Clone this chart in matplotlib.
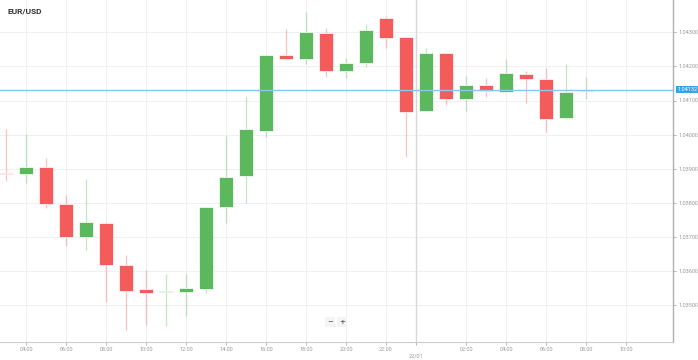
import matplotlib
matplotlib.use('Agg')
import matplotlib.pyplot as plt
import matplotlib.dates as mdates
import numpy as np
import pandas as pd

# hourly EUR/USD candles, 21/01 03:00 -> 22/01 08:00
times = ['2025-01-21 03:00', '2025-01-21 04:00', '2025-01-21 05:00', '2025-01-21 06:00',
         '2025-01-21 07:00', '2025-01-21 08:00', '2025-01-21 09:00', '2025-01-21 10:00',
         '2025-01-21 11:00', '2025-01-21 12:00', '2025-01-21 13:00', '2025-01-21 14:00',
         '2025-01-21 15:00', '2025-01-21 16:00', '2025-01-21 17:00', '2025-01-21 18:00',
         '2025-01-21 19:00', '2025-01-21 20:00', '2025-01-21 21:00', '2025-01-21 22:00',
         '2025-01-21 23:00', '2025-01-22 00:00', '2025-01-22 01:00', '2025-01-22 02:00',
         '2025-01-22 03:00', '2025-01-22 04:00', '2025-01-22 05:00', '2025-01-22 06:00',
         '2025-01-22 07:00', '2025-01-22 08:00']
opens = [1.03886, 1.03884, 1.03906, 1.03796, 1.03699, 1.03740, 1.03617, 1.03546,
         1.03538, 1.03538, 1.03548, 1.03788, 1.03877, 1.04011, 1.04233, 1.04221,
         1.04298, 1.04187, 1.04209, 1.04343, 1.04285, 1.04069, 1.04239, 1.04104,
         1.04145, 1.04126, 1.04179, 1.04164, 1.04049, 1.04128]
highs = [1.04016, 1.04001, 1.03931, 1.03823, 1.03871, 1.03742, 1.03647, 1.03603,
         1.03590, 1.03592, 1.03788, 1.03996, 1.04113, 1.04236, 1.04310, 1.04360,
         1.04313, 1.04224, 1.04324, 1.04348, 1.04286, 1.04253, 1.04243, 1.04172,
         1.04167, 1.04222, 1.04187, 1.04194, 1.04206, 1.04170]
lows = [1.03864, 1.03859, 1.03784, 1.03674, 1.03662, 1.03510, 1.03427, 1.03441,
        1.03439, 1.03466, 1.03536, 1.03740, 1.03799, 1.03994, 1.04220, 1.04206,
        1.04170, 1.04167, 1.04197, 1.04255, 1.03935, 1.04068, 1.04087, 1.04070,
        1.04111, 1.04125, 1.04094, 1.04009, 1.04045, 1.04105]
closes = [1.03883, 1.03906, 1.03796, 1.03699, 1.03742, 1.03618, 1.03542, 1.03536,
          1.03541, 1.03551, 1.03787, 1.03876, 1.04015, 1.04233, 1.04221, 1.04300,
          1.04187, 1.04209, 1.04307, 1.04282, 1.04065, 1.04240, 1.04104, 1.04145,
          1.04128, 1.04180, 1.04163, 1.04047, 1.04126, 1.04132]
last_price = 1.04132

y_ticks = [1.03500, 1.03600, 1.03700, 1.03800, 1.03900, 1.04000, 1.04100, 1.04200, 1.04300]
x_ticks = ['2025-01-21 04:00', '2025-01-21 06:00', '2025-01-21 08:00', '2025-01-21 10:00',
           '2025-01-21 12:00', '2025-01-21 14:00', '2025-01-21 16:00', '2025-01-21 18:00',
           '2025-01-21 20:00', '2025-01-21 22:00', '2025-01-22 02:00', '2025-01-22 04:00',
           '2025-01-22 06:00', '2025-01-22 08:00', '2025-01-22 10:00']
day_break = '2025-01-21 23:30'
day_label = '22/01'

UP = '#5cb85c'
DOWN = '#f45b5b'

t = mdates.date2num(pd.to_datetime(times))
o = np.array(opens)
h = np.array(highs)
l = np.array(lows)
c = np.array(closes)
up = c >= o
colors = np.where(up, UP, DOWN)

fig = plt.figure(figsize=(6.98, 3.6), dpi=100)
ax = fig.add_axes([0, 18.3 / 360, 673 / 698, 341.7 / 360])

# grid
for yt in y_ticks:
    ax.axhline(yt, color='#f0f0f0', lw=0.8, zorder=0)
xt = mdates.date2num(pd.to_datetime(x_ticks))
for x in xt:
    ax.axvline(x, color='#f0f0f0', lw=0.8, zorder=0)
xb = mdates.date2num(pd.to_datetime(day_break))
ax.axvline(xb, color='#d8d8d8', lw=1.0, zorder=0)

# wicks and bodies
hour = 1 / 24
ax.vlines(t, l, h, colors=colors, lw=1.0, alpha=0.35, zorder=1)
body = np.maximum(np.abs(c - o), 0.00004)
ax.bar(t, body, bottom=np.minimum(o, c), width=0.66 * hour, color=colors,
       edgecolor='white', linewidth=0.5, zorder=2)

# last price line
ax.axhline(last_price, color='#86c8f2', lw=1.0, zorder=3)

ax.set_xlim(mdates.date2num(pd.Timestamp('2025-01-21 02:42')),
            mdates.date2num(pd.Timestamp('2025-01-22 12:21')))
ax.set_ylim(1.03392, 1.04395)

ax.yaxis.tick_right()
ax.set_yticks(y_ticks)
ax.set_yticklabels([f'{v:.5f}' for v in y_ticks])
ax.set_xticks(list(xt) + [xb])
ax.set_xticklabels([pd.Timestamp(s).strftime('%H:%M') for s in x_ticks] + ['\n' + day_label])
ax.tick_params(axis='both', labelsize=4, colors='#aaaaaa', labelcolor='#999999',
               length=2, width=0.6, pad=2)
for lab in ax.get_xticklabels() + ax.get_yticklabels():
    lab.set_family('Roboto')

for s in ['top', 'left']:
    ax.spines[s].set_visible(False)
ax.spines['right'].set_color('#b0b0b0')
ax.spines['bottom'].set_color('#cccccc')
ax.spines['right'].set_linewidth(1.0)
ax.spines['bottom'].set_linewidth(0.8)

# price tag on the axis
ax.annotate(f'{last_price:.5f}', xy=(1.0, last_price), xycoords=('axes fraction', 'data'),
            xytext=(3, 0), textcoords='offset points', va='center', ha='left',
            fontsize=4, family='Roboto', color='white',
            bbox=dict(boxstyle='square,pad=0.25', fc='#3aa3e3', ec='none'))

fig.text(8 / 698, 1 - 11 / 360, 'EUR/USD', fontsize=6, fontweight='bold',
         family='Roboto', color='#333333', va='center', ha='left')

# zoom buttons
for xp, lab in [(330, '\u2212'), (342, '+')]:
    fig.text(xp / 698, 1 - 322 / 360, lab, fontsize=5, fontweight='bold', family='DejaVu Sans',
             color='#666666', ha='center', va='center',
             bbox=dict(boxstyle='square,pad=0.3', fc='#f4f4f4', ec='none'))

fig.savefig('out.png', dpi=100)
plt.close(fig)
